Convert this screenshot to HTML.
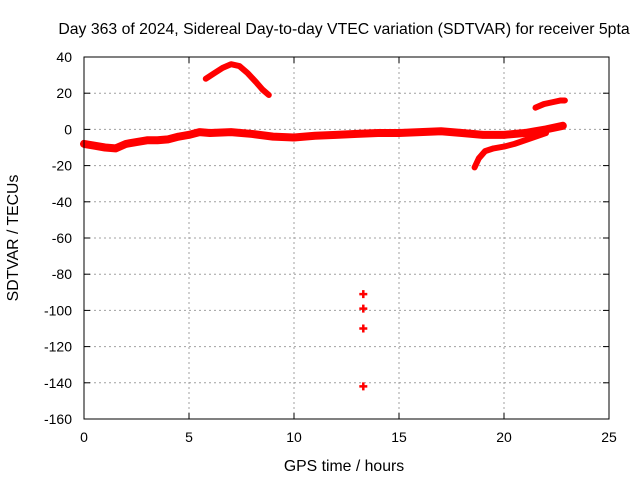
<!DOCTYPE html>
<html><head><meta charset="utf-8"><style>
body{margin:0;background:#fff}
svg{display:block;font-family:"Liberation Sans",sans-serif;font-size:14px}
</style></head><body>
<svg width="640" height="480" id="c">
<rect width="640" height="480" fill="#fff"/>
<text x="344" y="34" text-anchor="middle" font-size="15.8">Day 363 of 2024, Sidereal Day-to-day VTEC variation (SDTVAR) for receiver 5pta</text>
<text x="344" y="471" text-anchor="middle" font-size="15.8">GPS time / hours</text>
<text transform="translate(18,238) rotate(-90)" text-anchor="middle" font-size="15.8">SDTVAR / TECUs</text>
<g id="grid"></g><g id="marks"></g>
<rect x="84" y="57" width="525" height="362" fill="none" stroke="#000" stroke-width="1"/>
</svg>
<script>
const xTicks=[0,5,10,15,20,25];
const yTicks=[40,20,0,-20,-40,-60,-80,-100,-120,-140,-160];
const mainX=[0,0.5,1,1.5,2,2.5,3,3.5,4,4.5,5,5.5,6,7,8,9,10,11,12,13,14,15,16,17,18,19,20,21,22,22.8];
const mainY=[-8,-9,-10,-10.5,-8,-7,-6,-6,-5.5,-4,-3,-1.5,-2,-1.5,-2.5,-4,-4.5,-3.5,-3,-2.5,-2,-2,-1.5,-1,-2,-3,-3,-2,0,2];
const humpX=[5.8,6.2,6.6,7,7.4,7.8,8.2,8.5,8.8];
const humpY=[28,31,34,36,35,31,26,22,19];
const upperX=[21.5,21.9,22.3,22.7,22.9];
const upperY=[12,14,15,16,16];
const dipX=[18.6,18.8,19.1,19.5,20,20.5,21,21.5,22];
const dipY=[-21,-16,-12,-10.5,-9.5,-8,-6,-4,-2];
const outX=[13.3,13.3,13.3,13.3];
const outY=[-91,-99,-110,-142];
const NS="http://www.w3.org/2000/svg";
const X=v=>84+(v-0)*(525/25), Y=v=>57+(40-v)*(362/200);
const g=document.getElementById('grid'), m=document.getElementById('marks');
function el(t,a,p){const e=document.createElementNS(NS,t);for(const k in a)e.setAttribute(k,a[k]);p.appendChild(e);return e;}
xTicks.forEach(t=>{
 if(t>0&&t<25){const l=el('line',{x1:X(t),x2:X(t),y1:57,y2:419,stroke:'#a0a0a0','stroke-dasharray':'2,3'},g);
 
 }
 el('line',{x1:X(t),x2:X(t),y1:419,y2:413,stroke:'#000'},g);el('line',{x1:X(t),x2:X(t),y1:57,y2:63,stroke:'#000'},g);
 const tx=el('text',{x:X(t),y:442,'text-anchor':'middle'},g);tx.textContent=t;
 
 
});
yTicks.forEach(t=>{
 if(t<40&&t>-160){const l=el('line',{x1:84,x2:609,y1:Y(t),y2:Y(t),stroke:'#a0a0a0','stroke-dasharray':'2,3'},g);
 
 }
 el('line',{x1:84,x2:90,y1:Y(t),y2:Y(t),stroke:'#000'},g);el('line',{x1:603,x2:609,y1:Y(t),y2:Y(t),stroke:'#000'},g);
 const tx=el('text',{x:72,y:Y(t)+5,'text-anchor':'end'},g);tx.textContent=t;
 
 
});
function series(xs,ys,name,w){
 const p=el('polyline',{points:xs.map((x,i)=>X(x)+','+Y(ys[i])).join(' '),fill:'none',stroke:'#f00','stroke-width':w,'stroke-linejoin':'round','stroke-linecap':'round'},m);
 
 
}
series(mainX,mainY,'main-series',8);
series(humpX,humpY,'hump-series',6);
series(upperX,upperY,'upper-late-series',6);
series(dipX,dipY,'dip-series',6);
outX.forEach((x,i)=>{
 const p=el('path',{d:`M${X(x)-4},${Y(outY[i])}h8M${X(x)},${Y(outY[i])-4}v8`,stroke:'#f00','stroke-width':2.5},m);
 
 
});
</script>
</body></html>
